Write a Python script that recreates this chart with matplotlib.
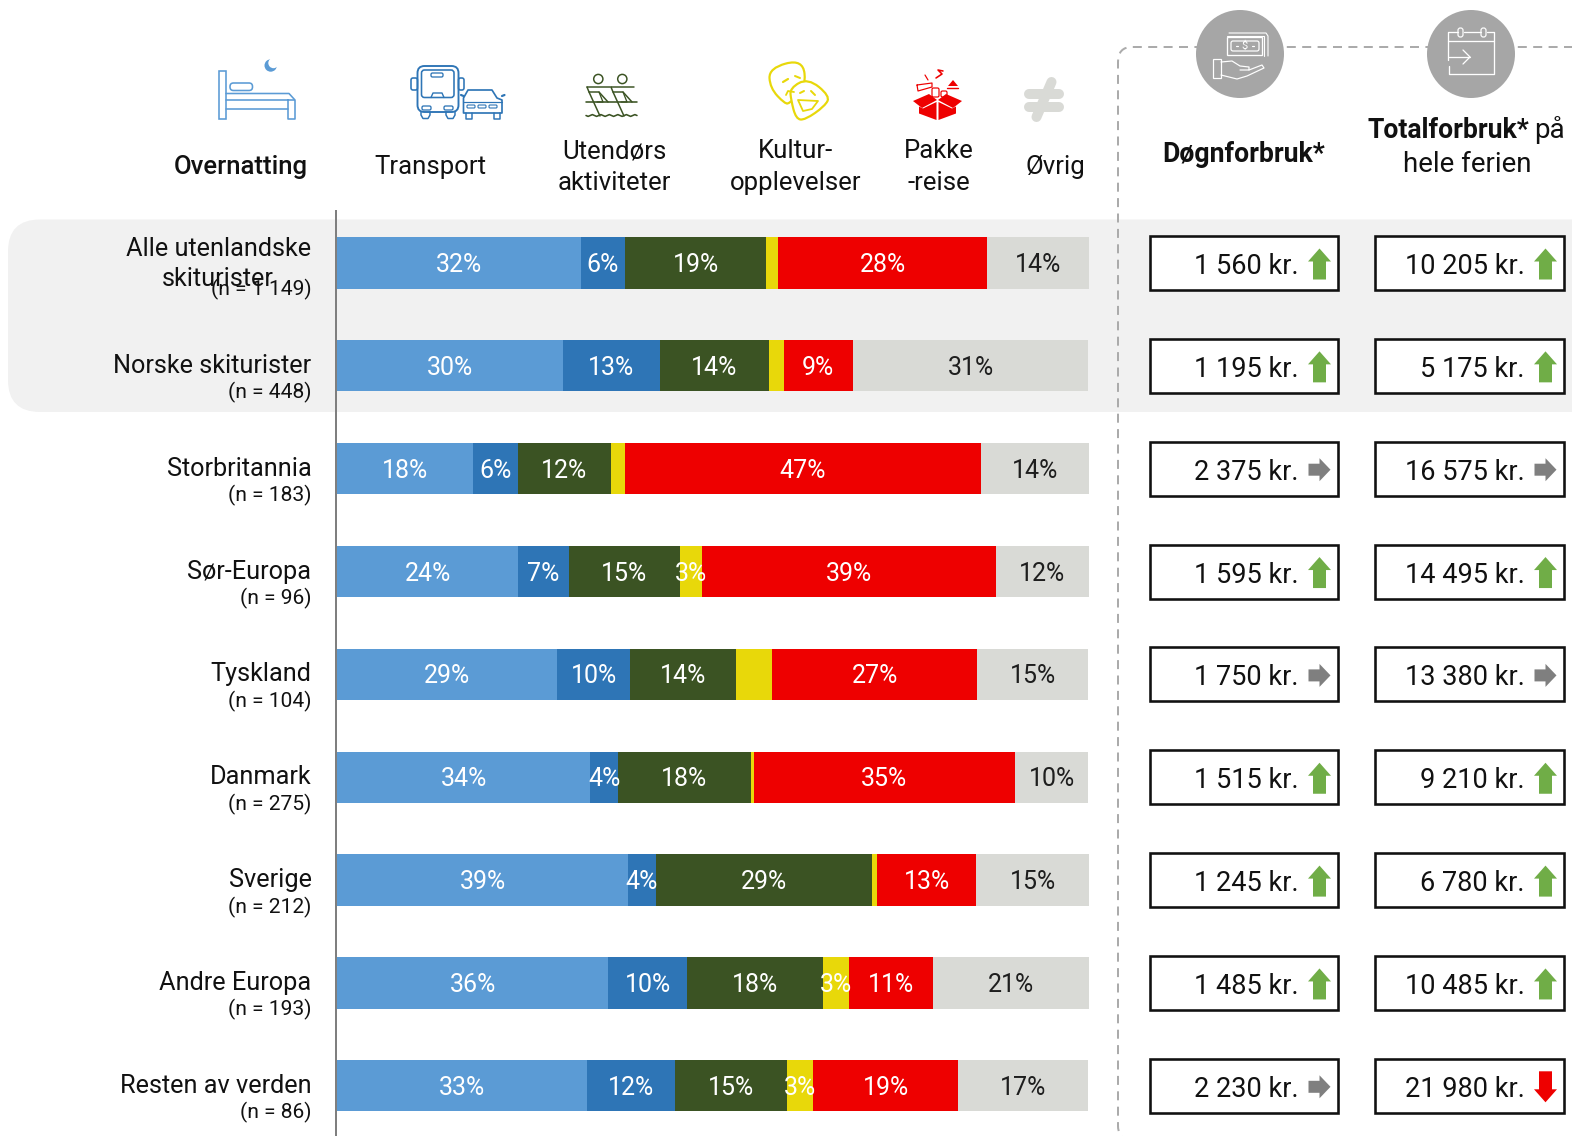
import numpy as np
import matplotlib
matplotlib.use("Agg")
import matplotlib.pyplot as plt
from matplotlib.patches import FancyBboxPatch, Rectangle, Circle, Polygon, PathPatch
from matplotlib.path import Path

plt.rcParams['font.family'] = ['Roboto', 'DejaVu Sans']

W, H = 1572, 1136

categories = ["Overnatting", "Transport", "Utendørs aktiviteter", "Kulturopplevelser", "Pakkereise", "Øvrig"]
colors = ["#5B9BD5", "#2E75B6", "#3B5323", "#E8D80A", "#EE0000", "#D9DAD6"]

row_names = ["Alle utenlandske\nskiturister", "Norske skiturister", "Storbritannia", "Sør-Europa",
             "Tyskland", "Danmark", "Sverige", "Andre Europa", "Resten av verden"]
row_n = ["(n = 1 149)", "(n = 448)", "(n = 183)", "(n = 96)", "(n = 104)",
         "(n = 275)", "(n = 212)", "(n = 193)", "(n = 86)"]

overnatting = [32.4, 30.1, 18.1, 24.1, 29.3, 33.7, 38.7, 36.1, 33.3]
transport = [5.9, 12.8, 6.0, 6.7, 9.7, 3.7, 3.7, 10.4, 11.7]
utendors = [18.8, 14.5, 12.3, 14.8, 14.1, 17.6, 28.7, 18.1, 14.8]
kultur = [1.6, 2.0, 1.9, 2.9, 4.8, 0.4, 0.7, 3.5, 3.5]
pakke = [27.7, 9.2, 47.3, 39.1, 27.2, 34.8, 13.2, 11.1, 19.3]
ovrig = [13.6, 31.3, 14.4, 12.4, 14.8, 9.7, 15.1, 20.8, 17.3]

labels_overnatting = ["32%", "30%", "18%", "24%", "29%", "34%", "39%", "36%", "33%"]
labels_transport = ["6%", "13%", "6%", "7%", "10%", "4%", "4%", "10%", "12%"]
labels_utendors = ["19%", "14%", "12%", "15%", "14%", "18%", "29%", "18%", "15%"]
labels_kultur = ["", "", "", "3%", "", "", "", "3%", "3%"]
labels_pakke = ["28%", "9%", "47%", "39%", "27%", "35%", "13%", "11%", "19%"]
labels_ovrig = ["14%", "31%", "14%", "12%", "15%", "10%", "15%", "21%", "17%"]

dogn = ["1 560 kr.", "1 195 kr.", "2 375 kr.", "1 595 kr.", "1 750 kr.", "1 515 kr.", "1 245 kr.", "1 485 kr.", "2 230 kr."]
total = ["10 205 kr.", "5 175 kr.", "16 575 kr.", "14 495 kr.", "13 380 kr.", "9 210 kr.", "6 780 kr.", "10 485 kr.", "21 980 kr."]
dogn_trend = ["up", "up", "flat", "up", "flat", "up", "up", "up", "flat"]
total_trend = ["up", "up", "flat", "up", "flat", "up", "up", "up", "down"]

ROW0, STEP = 263.0, 102.85

fig = plt.figure(figsize=(W / 100, H / 100), dpi=100, facecolor="white")
bg = fig.add_axes([0, 0, 1, 1], zorder=0)
bg.set_xlim(0, W); bg.set_ylim(H, 0); bg.axis("off")


def px(lw):
    return lw * 0.72


def line(pts, color, lw=1.5):
    xs, ys = zip(*pts)
    bg.plot(xs, ys, color=color, lw=px(lw), solid_capstyle="round", solid_joinstyle="round", zorder=5)


def rbox(x0, y0, x1, y1, r, fc="none", ec="none", lw=0, z=4):
    bg.add_patch(FancyBboxPatch((x0, y0), x1 - x0, y1 - y0, boxstyle=f"round,pad=0,rounding_size={r}",
                                fc=fc, ec=ec, lw=px(lw), zorder=z))


def curve(pts, color, lw=1.5, fc="none", z=3):
    n = len(pts)
    verts, codes = [], []
    for i in range(n):
        a, b = np.array(pts[i]), np.array(pts[(i + 1) % n])
        mid = (a + b) / 2
        if i == 0:
            verts.append(mid); codes.append(Path.MOVETO)
        else:
            verts += [a, mid]; codes += [Path.CURVE3, Path.CURVE3]
    verts += [pts[0], (np.array(pts[0]) + np.array(pts[1])) / 2]
    codes += [Path.CURVE3, Path.CURVE3]
    bg.add_patch(PathPatch(Path(verts, codes), fc=fc, ec=color, lw=px(lw), zorder=z))


# highlighted band
bg.add_patch(FancyBboxPatch((8, 219.5), W + 60, 192.5, boxstyle="round,pad=0,rounding_size=32",
                            fc="#F1F1F1", ec="none", zorder=0))

# dashed frame
frame = Path([(W + 5, 47), (1132, 47), (1118, 47), (1118, 62), (1118, 1126), (1118, 1136), (1126, 1140)],
             [Path.MOVETO, Path.LINETO, Path.CURVE3, Path.CURVE3, Path.LINETO, Path.CURVE3, Path.CURVE3])
bg.add_patch(PathPatch(frame, fc="none", ec="#ABABAB", lw=px(2), ls=(0, (4.5, 3.2)), zorder=1))

# stacked bars
ax = fig.add_axes([337.0 / W, 0, (1089.0 - 337.0) / W, 1], zorder=1)
ax.patch.set_alpha(0)
ax.set_xlim(0, 100)
ax.set_ylim((H - ROW0) / STEP, -ROW0 / STEP)
series = [overnatting, transport, utendors, kultur, pakke, ovrig]
labels = [labels_overnatting, labels_transport, labels_utendors, labels_kultur, labels_pakke, labels_ovrig]
left = np.zeros(len(row_names))
for vals, labs, c, name in zip(series, labels, colors, categories):
    vals = np.array(vals)
    ax.barh(range(len(row_names)), vals, left=left, height=51.3 / STEP, color=c, label=name)
    for i, t in enumerate(labs):
        if t:
            ax.text(left[i] + vals[i] / 2, i + 2 / STEP, t, ha="center", va="center", fontsize=18,
                    color="#1E1E1E" if c == colors[5] else "white")
    left += vals
for s in ["top", "right", "bottom"]:
    ax.spines[s].set_visible(False)
ax.spines["left"].set_color("#7F7F7F")
ax.spines["left"].set_linewidth(px(2))
ax.spines["left"].set_position(("outward", px(1.5)))
ax.spines["left"].set_bounds((211 - ROW0) / STEP, (H - ROW0) / STEP)
ax.set_xticks([]); ax.set_yticks([])

TXT = "#111111"
NAME_FS, N_FS, HEAD_FS = 18.2, 15.1, 18.5
# row labels
for i, (name, n) in enumerate(zip(row_names, row_n)):
    y = ROW0 + i * STEP
    if i == 0:
        bg.text(311.5, y - 14.5, "Alle utenlandske", ha="right", va="center", fontsize=NAME_FS, color=TXT, zorder=3)
        bg.text(273.5, y + 16.5, "skiturister", ha="right", va="center", fontsize=NAME_FS, color=TXT, zorder=3)
        bg.text(312, y + 26, n, ha="right", va="center", fontsize=N_FS, color=TXT, zorder=4)
    else:
        bg.text(311.5, y + 0, name, ha="right", va="center", fontsize=NAME_FS, color=TXT, zorder=3)
        bg.text(311.5, y + 27, n, ha="right", va="center", fontsize=N_FS, color=TXT, zorder=3)

# column heads
head = dict(ha="center", va="center", fontsize=HEAD_FS, color=TXT, zorder=3)
bg.text(240.5, 167, "Overnatting", fontweight="medium", **head)
bg.text(430.5, 167, "Transport", **head)
bg.text(614, 151, "Utendørs", **head)
bg.text(614, 183, "aktiviteter", **head)
bg.text(795.5, 151, "Kultur-", **head)
bg.text(795.5, 183, "opplevelser", **head)
bg.text(939, 151, "Pakke", **head)
bg.text(939, 183, "-reise", **head)
bg.text(1055.5, 167, "Øvrig", **head)
bg.text(1243.5, 155, "Døgnforbruk*", fontweight="bold", ha="center", va="center", fontsize=19.2, color=TXT, zorder=3)
bg.text(1529, 130.5, "Totalforbruk*", fontweight="bold", ha="right", va="center", fontsize=19.2, color=TXT, zorder=3)
bg.text(1534, 130.5, "på", ha="left", va="center", fontsize=20, color=TXT, zorder=3)
bg.text(1467, 164.5, "hele ferien", ha="center", va="center", fontsize=20, color=TXT, zorder=3)


# boxes and arrows
def arrow(cx, cy, kind):
    if kind == "up":
        t, b, hw, sw, hh = cy - 15.5, cy + 15.5, 11.5, 6.5, 13
        bg.add_patch(Polygon([(cx, t), (cx + hw, t + hh), (cx + sw, t + hh), (cx + sw, b), (cx - sw, b),
                              (cx - sw, t + hh), (cx - hw, t + hh)], fc="#70AD47", ec="none", zorder=4))
    elif kind == "down":
        t, b, hw, sw, hh = cy - 15.5, cy + 15.5, 11.5, 6.5, 13
        bg.add_patch(Polygon([(cx, b), (cx + hw, b - hh), (cx + sw, b - hh), (cx + sw, t), (cx - sw, t),
                              (cx - sw, b - hh), (cx - hw, b - hh)], fc="#EE0000", ec="none", zorder=4))
    else:
        l, r = cx - 11, cx + 11
        bg.add_patch(Polygon([(r, cy), (r - 11, cy - 11.5), (r - 11, cy - 6), (l, cy - 6), (l, cy + 6),
                              (r - 11, cy + 6), (r - 11, cy + 11.5)], fc="#7F7F7F", ec="none", zorder=4))


for i in range(len(row_names)):
    y = ROW0 + i * STEP
    for x0, x1, tx, ax_, vals, tr in [(1150, 1338, 1299, 1319.5, dogn, dogn_trend),
                                      (1375, 1563.5, 1525, 1545.5, total, total_trend)]:
        bg.add_patch(Rectangle((x0, y - 27), x1 - x0, 54, fc="white", ec="#111111", lw=px(2.6), zorder=3))
        bg.text(tx, y + 3.5, vals[i], ha="right", va="center", fontsize=19.5, color=TXT, zorder=4)
        arrow(ax_, y + 1, tr[i])

# ---- icons ----
c = colors[0]
bg.add_patch(Rectangle((219, 71), 7, 48, fc="none", ec=c, lw=px(1.6), zorder=3))
rbox(230, 83, 252.5, 90.5, 3.5, ec=c, lw=1.6)
line([(226, 99.5), (294.5, 99.5), (294.5, 119), (288, 119), (288, 99.5)], c, 1.6)
line([(226, 93.5), (289, 93.5), (294.5, 99.5)], c, 1.6)
line([(226, 108.5), (288, 108.5)], c, 1.6)
bg.add_patch(Circle((270.7, 65.5), 6.2, fc=c, ec="none", zorder=3))
bg.add_patch(Circle((273.5, 63), 5.2, fc="white", ec="none", zorder=4))

c = colors[1]
rbox(417.5, 66, 458.5, 112, 7, ec=c, lw=1.9)
rbox(421.5, 70, 454, 97.5, 3, ec=c, lw=1.6)
rbox(431, 73, 443, 77, 1.5, ec=c, lw=1.3)
line([(431, 97.5), (433, 93), (442, 93), (444, 97.5)], c, 1.4)
rbox(411, 78, 417.5, 90, 2, ec=c, lw=1.6)
rbox(458.5, 78, 464, 90, 2, ec=c, lw=1.6)
rbox(422, 106, 431, 110, 1.5, ec=c, lw=1.3)
rbox(444, 106, 453, 110, 1.5, ec=c, lw=1.3)
line([(421, 112), (421, 115), (423, 118.5), (428, 118.5), (430, 115), (430, 112)], c, 1.5)
line([(446, 112), (446, 115), (448, 118.5), (453, 118.5), (455, 115), (455, 112)], c, 1.5)
bg.add_patch(Polygon([(463.5, 98), (468, 90), (492, 90), (497, 98), (502, 100), (502, 113), (463.5, 113)],
                     fc="white", ec=c, lw=px(1.7), zorder=3, joinstyle="round"))
line([(463.5, 102), (502, 102)], c, 1.2)
for x_ in (467, 478, 489):
    rbox(x_, 105, x_ + 8, 108, 1, ec=c, lw=1.1)
line([(466, 113), (466, 118.5), (472, 118.5), (472, 113)], c, 1.5)
line([(494, 113), (494, 118.5), (500, 118.5), (500, 113)], c, 1.5)
line([(463.5, 96), (461, 95)], c, 2.2); line([(502, 96), (504.5, 95)], c, 2.2)

c = colors[2]
for dx in (0, 24):
    bg.add_patch(Circle((598.3 + dx, 79), 4.6, fc="none", ec=c, lw=px(1.5), zorder=3))
    line([(587 + dx, 87), (610 + dx, 87)], c, 1.5)
    line([(587 + dx, 87), (589 + dx, 92), (599 + dx, 92), (608 + dx, 102)], c, 1.5)
    line([(589 + dx, 92), (600 + dx, 116)], c, 1.5)
    line([(599 + dx, 92), (603 + dx, 102), (597 + dx, 102)], c, 1.3)
line([(586, 102), (637, 102)], c, 1.6)
waves = [(586 + k * 2.125, 115.5 + (0.9 if k % 4 == 1 else (-0.9 if k % 4 == 3 else 0))) for k in range(25)]
line(waves, c, 1.6)

c = colors[3]
curve([(769, 68), (803, 59), (806, 88), (790, 103), (785, 104), (770, 88)], c, 2.2, fc="white")
curve([(790, 88), (808, 78), (830, 96), (825, 106), (805, 120), (796, 119), (791, 100)], c, 2.2, fc="white")
line([(783, 82), (788, 79)], c, 2.2); line([(795, 76), (800, 78)], c, 2.0)
line([(786, 95), (788, 91), (794, 92)], c, 1.8)
line([(800, 93), (804, 91)], c, 2); line([(811, 91), (815, 95)], c, 2)
bg.add_patch(Polygon([(798, 100), (818, 101), (812, 109), (803, 111)], fc="none", ec=c, lw=px(1.8), zorder=4, joinstyle="round"))

c = "#EE0000"
bg.add_patch(Polygon([(913, 101), (929, 94), (937, 100), (922, 108)], fc=c, ec="none", zorder=3))
bg.add_patch(Polygon([(962, 101), (946, 94), (938, 100), (953, 108)], fc=c, ec="none", zorder=3))
bg.add_patch(Polygon([(919, 106.5), (923, 108.5), (936.5, 102), (936.5, 120), (919, 113.5)], fc=c, ec="none", zorder=3))
bg.add_patch(Polygon([(956, 106.5), (952, 108.5), (938.5, 102), (938.5, 120), (956, 113.5)], fc=c, ec="none", zorder=3))
bg.add_patch(Polygon([(948, 86), (953, 80), (958, 86)], fc=c, ec="none", zorder=3))
line([(947, 88), (958, 88)], c, 1.4)
line([(917, 85), (932, 83), (932, 87), (918, 91), (917, 85)], c, 1.2)
line([(936, 78), (942, 74), (938, 70), (943, 71)], c, 1.6)
line([(925, 75), (928, 80)], c, 1.2)
rbox(932, 88, 939, 97, 1.5, ec=c, lw=1.2)
rbox(941, 91, 947, 97, 1.5, ec=c, lw=1.2)

c = colors[5]
line([(1029, 93.5), (1059, 93.5)], c, 10)
line([(1029, 106.5), (1059, 106.5)], c, 10)
line([(1051.5, 82), (1036.5, 117)], c, 10)

# grey circles
for cx in (1240, 1471):
    bg.add_patch(Circle((cx, 54), 44, fc="#A6A6A6", ec="none", zorder=2))
w = "white"
# money and hand
line([(1229, 33), (1266, 33), (1268, 36), (1268, 56)], w, 1.1)
line([(1227, 36), (1264, 36), (1264, 56)], w, 1.1)
bg.add_patch(Rectangle((1227, 37), 35, 18, fc="none", ec=w, lw=px(1.3), zorder=3))
rbox(1231, 41, 1259, 51, 2, ec=w, lw=1.2)
bg.text(1245, 46, "$", color=w, fontsize=8, ha="center", va="center", zorder=3)
line([(1236, 45.5), (1238, 45.5)], w, 1.2); line([(1252, 45.5), (1254, 45.5)], w, 1.2)
bg.add_patch(Rectangle((1213, 59), 8, 19, fc="none", ec=w, lw=px(1.2), zorder=3))
line([(1221, 62), (1232, 61), (1240, 66), (1249, 67), (1249, 70), (1240, 70)], w, 1.2)
line([(1221, 75), (1237, 79), (1247, 76), (1264, 68), (1262, 65), (1249, 70)], w, 1.2)
# calendar
line([(1448, 60), (1448, 32), (1458, 32)], w, 1.3)
line([(1448, 41), (1494, 41)], w, 1.3)
line([(1464, 32), (1481, 32)], w, 1.3)
line([(1487, 32), (1494, 32), (1494, 74), (1449, 74), (1449, 66)], w, 1.3)
rbox(1458, 28, 1463, 37, 2.3, ec=w, lw=1.2)
rbox(1481, 28, 1486, 37, 2.3, ec=w, lw=1.2)
line([(1449, 57), (1470, 57)], w, 1.3)
line([(1463, 50), (1470, 57), (1463, 64)], w, 1.3)

fig.savefig("out.png", dpi=100, facecolor="white")
